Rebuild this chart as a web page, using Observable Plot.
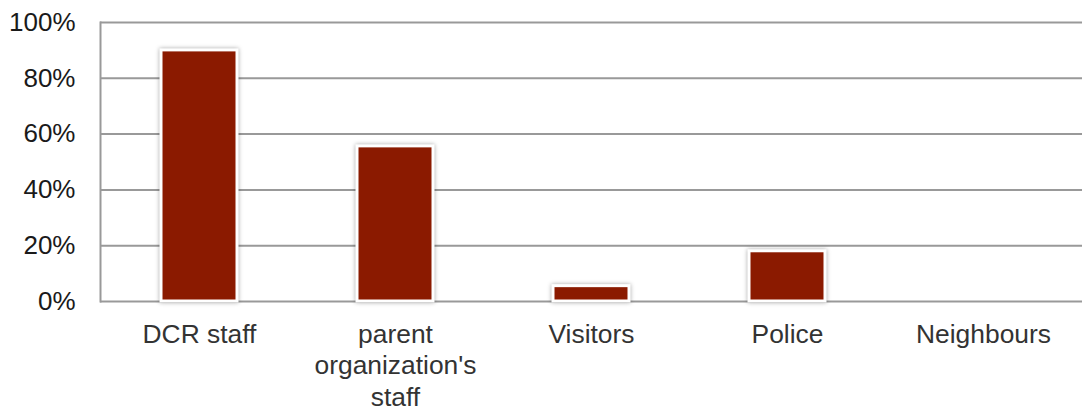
<!DOCTYPE html>
<html>
<head>
<meta charset="utf-8">
<script src="https://cdn.jsdelivr.net/npm/d3@7"></script>
<script src="https://cdn.jsdelivr.net/npm/@observablehq/plot@0.6"></script>
<style>
  html, body { margin: 0; padding: 0; background: #fff; }
  #chart svg { display: block; }
  #chart g[aria-label="bar"] { filter: drop-shadow(0px 0px 2px rgba(0,0,0,0.35)); }
</style>
</head>
<body>
<div id="chart"></div>
<script>
const categories = ["DCR staff", "parent organization's staff", "Visitors", "Police", "Neighbours"];
const labels = ["DCR staff", "parent\norganization's\nstaff", "Visitors", "Police", "Neighbours"];
const values = [0.90, 0.556, 0.055, 0.18, 0];
const yTicks = [0, 0.2, 0.4, 0.6, 0.8, 1.0];

const data = categories.map((c, i) => ({ category: c, value: values[i] }));
const labelOf = new Map(categories.map((c, i) => [c, labels[i]]));

const chart = Plot.plot({
  width: 1082,
  height: 412,
  marginLeft: 100,
  marginRight: 0,
  marginTop: 22,
  marginBottom: 111,
  style: { fontFamily: "'Liberation Sans', Arial, sans-serif", background: "#fff" },
  x: { domain: categories, paddingInner: 0.61, paddingOuter: 0.305, label: null },
  y: { domain: [0, 1], label: null },
  marks: [
    Plot.gridY(yTicks, { stroke: "#999", strokeOpacity: 1, strokeWidth: 2 }),
    Plot.frame({ anchor: "left", stroke: "#999", strokeWidth: 2 }),
    Plot.barY(data, { x: "category", y: "value", fill: "#8b1a00", stroke: "#fff", strokeWidth: 3 }),
    Plot.axisY(yTicks, {
      tickSize: 0, tickPadding: 25, fontSize: 26, fill: "#1a1a1a",
      tickFormat: d3.format(".0%"), label: null
    }),
    Plot.axisX({
      tickSize: 0, tickPadding: 19, fontSize: 26.4, fill: "#333", lineHeight: 1.19,
      tickFormat: d => labelOf.get(d), label: null
    })
  ]
});
document.getElementById("chart").appendChild(chart);
</script>
</body>
</html>
